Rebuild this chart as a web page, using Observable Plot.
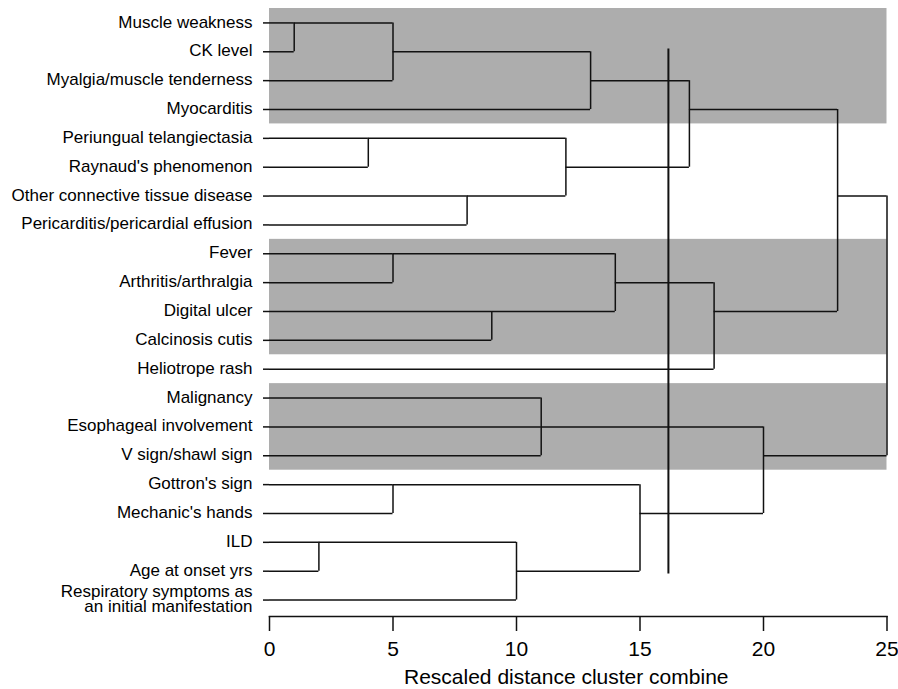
<!DOCTYPE html>
<html>
<head>
<meta charset="utf-8">
<script src="https://cdn.jsdelivr.net/npm/d3@7"></script>
<script src="https://cdn.jsdelivr.net/npm/@observablehq/plot@0.6"></script>
<style>
  html, body { margin: 0; padding: 0; background: #fff; }
  #chart { width: 898px; height: 689px; }
</style>
</head>
<body>
<div id="chart"></div>
<script>
// Leaf labels, top to bottom (row index = position)
const labels = [
  "Muscle weakness",
  "CK level",
  "Myalgia/muscle tenderness",
  "Myocarditis",
  "Periungual telangiectasia",
  "Raynaud's phenomenon",
  "Other connective tissue disease",
  "Pericarditis/pericardial effusion",
  "Fever",
  "Arthritis/arthralgia",
  "Digital ulcer",
  "Calcinosis cutis",
  "Heliotrope rash",
  "Malignancy",
  "Esophageal involvement",
  "V sign/shawl sign",
  "Gottron's sign",
  "Mechanic's hands",
  "ILD",
  "Age at onset yrs",
  "Respiratory symptoms as\nan initial manifestation"
];

// Merges: node ids 0..20 are leaves; merge k creates node 21+k
const mergeChildren = [
  [0, 1], [21, 2], [22, 3], [4, 5], [6, 7], [24, 25], [23, 26],
  [8, 9], [10, 11], [28, 29], [30, 12], [27, 31],
  [13, 14, 15], [16, 17], [18, 19], [35, 20], [34, 36], [33, 37], [32, 38]
];
const mergeDistances = [1, 5, 13, 4, 8, 12, 17, 5, 9, 14, 18, 23, 11, 5, 2, 10, 15, 20, 25];
const mergeExitRows = [0, 1, 2, 4, 6, 5, 3, 8, 10, 9, 10, 6, 14, 16, 18, 19, 17, 15, null];

// Shaded groups (first row, last row)
const bandRows = [[0, 3], [8, 11], [13, 15]];

// Cut line
const cutDistance = [16.15];
const cutRowSpan = [0.9, 19.1];

const xTicks = [0, 5, 10, 15, 20, 25];
const xTitle = ["Rescaled distance cluster combine"];

// Build segments from the tree
const nodeDist = labels.map(() => 0);
const nodeRow = labels.map((_, i) => i);
const hsegs = [], vsegs = [];
mergeChildren.forEach((kids, k) => {
  const d = mergeDistances[k];
  const rows = kids.map(c => nodeRow[c]);
  kids.forEach(c => hsegs.push({y: nodeRow[c], x1: nodeDist[c], x2: d}));
  vsegs.push({x: d, y1: d3.min(rows), y2: d3.max(rows)});
  nodeDist.push(d);
  nodeRow.push(mergeExitRows[k]);
});

const ink = "#111";
const chart = Plot.plot({
  width: 898,
  height: 689,
  marginLeft: 269,
  marginRight: 11.5,
  marginTop: 8,
  marginBottom: 73,
  style: {fontFamily: "'Liberation Sans', Arial, Helvetica, sans-serif", color: "#000", background: "#fff"},
  x: {domain: [0, 25]},
  y: {domain: [-0.5, 20.57], reverse: true},
  marks: [
    Plot.rect(bandRows, {x1: () => 0, x2: () => 25, y1: d => d[0] - 0.5, y2: d => d[1] + 0.5, fill: "#adadad"}),
    Plot.ruleY(hsegs, {y: "y", x1: "x1", x2: "x2", stroke: ink, strokeWidth: 1.5}),
    Plot.ruleX(vsegs, {x: "x", y1: "y1", y2: "y2", stroke: ink, strokeWidth: 1.5}),
    Plot.ruleX(cutDistance, {x: d => d, y1: () => cutRowSpan[0], y2: () => cutRowSpan[1], stroke: ink, strokeWidth: 2}),
    Plot.frame({anchor: "bottom", stroke: ink, strokeWidth: 1.5}),
    Plot.axisX({
      ticks: xTicks, tickSize: 15, tickPadding: 10, fontSize: 21, strokeWidth: 1.5, stroke: ink,
      label: null
    }),
    Plot.text(xTitle, {frameAnchor: "bottom", lineAnchor: "middle", dy: 61, dx: -12, fontSize: 21, fill: "#000"}),
    Plot.axisY({
      ticks: d3.range(labels.length), tickFormat: i => labels[i], tickSize: 6, tickPadding: 11,
      fontSize: 17, lineHeight: 0.84, strokeWidth: 1.5, stroke: ink, label: null
    })
  ]
});
document.getElementById("chart").appendChild(chart);
</script>
</body>
</html>
